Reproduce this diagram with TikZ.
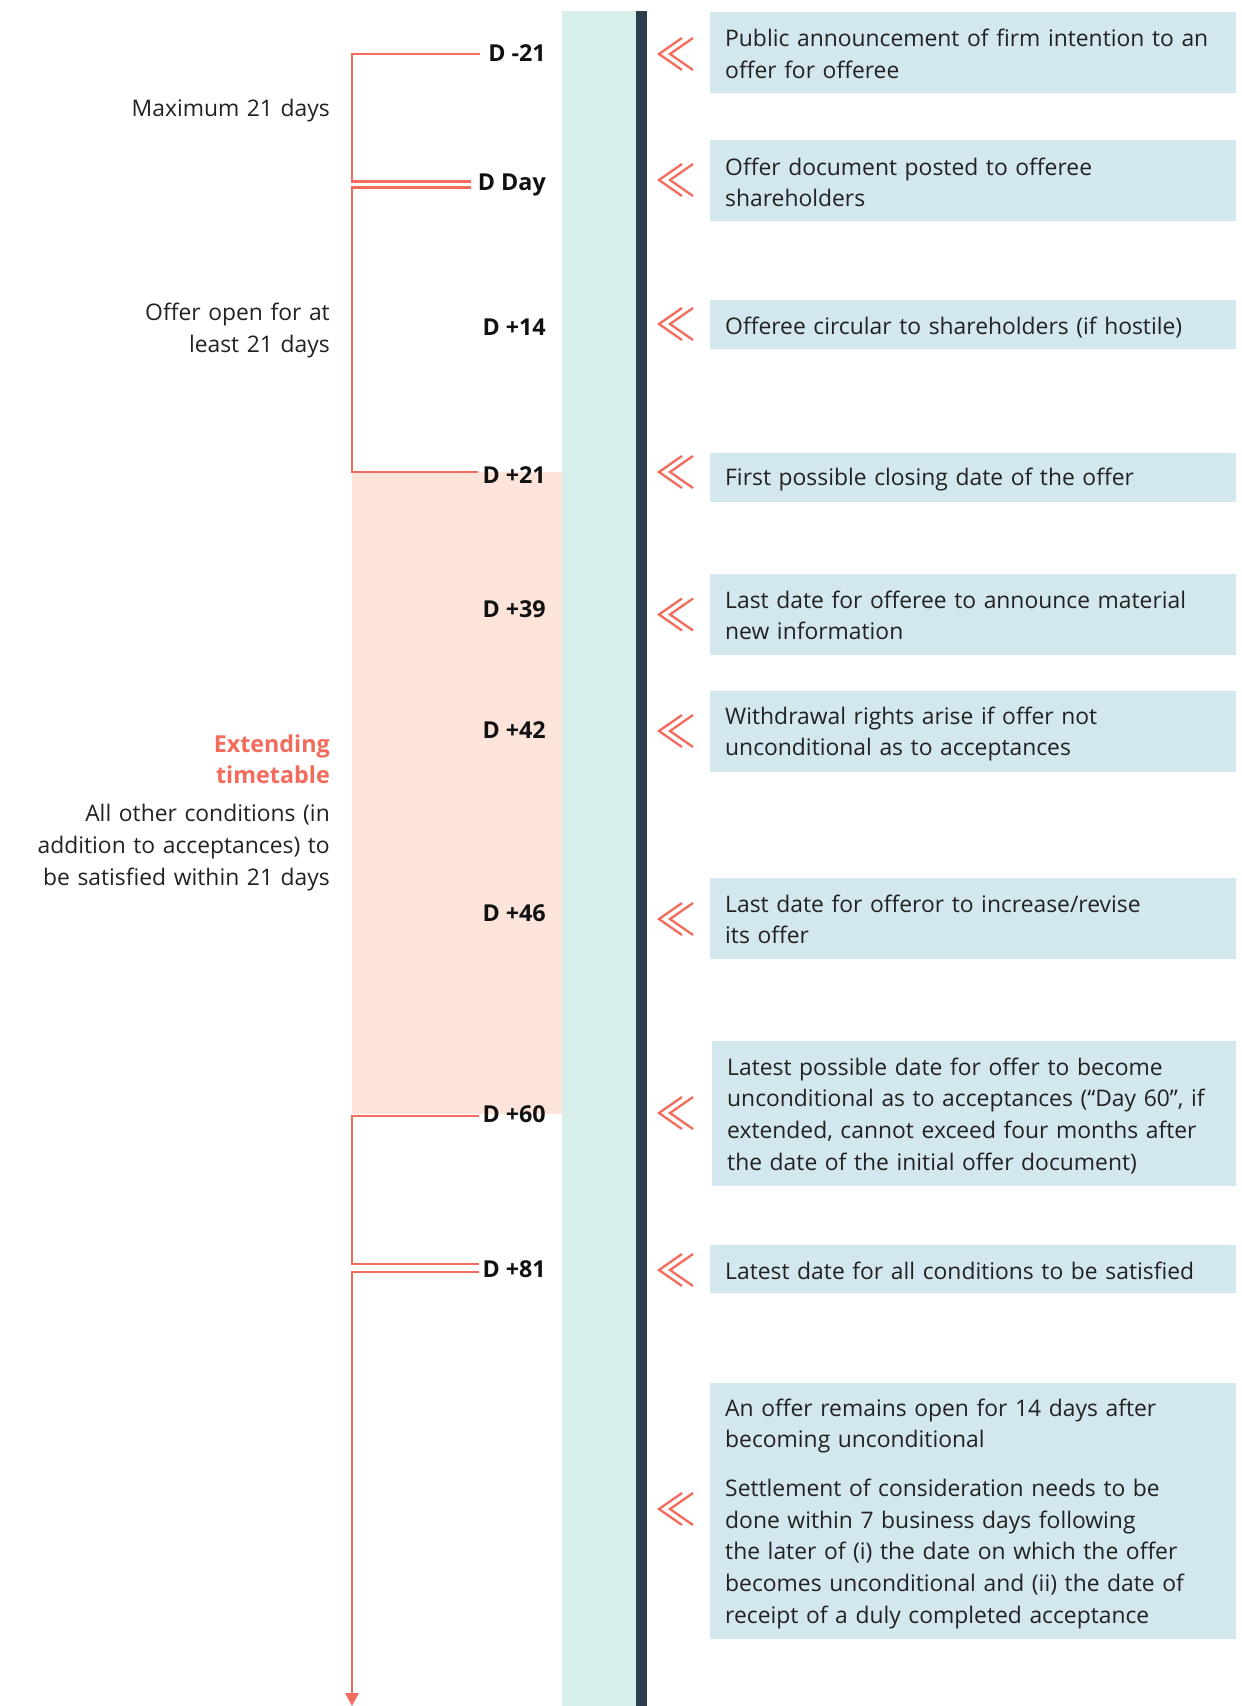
\documentclass[tikz,border=0pt]{standalone}
\usepackage{fontspec}
\setmainfont{Open Sans}
\usetikzlibrary{arrows.meta}

\definecolor{coral}{HTML}{F26B5B}
\definecolor{panelblue}{HTML}{D3E7EE}
\definecolor{railteal}{HTML}{D7EEEA}
\definecolor{raildark}{HTML}{2C3E4C}
\definecolor{peach}{HTML}{FDE4DB}
\definecolor{ink}{HTML}{222222}
\definecolor{labelink}{HTML}{111111}

\newcommand\txtsize{\fontsize{22.85}{31.7}\selectfont}
\newcommand\lblsize{\fontsize{23.3}{31.7}\selectfont}

\tikzset{
  pics/chevrons/.style={code={
    \draw[coral, line width=2.3pt] (23,-16) -- (0,0) -- (23,16)
                                   (34,-16) -- (11,0) -- (34,16);
  }}
}

\begin{document}
\begin{tikzpicture}[x=1pt,y=-1pt,
  panel/.style={fill=panelblue, draw=none, inner sep=0, outer sep=0,
                anchor=north west, minimum width=526pt},
  desc/.style={anchor=base west, inner sep=0, text width=520pt, align=left,
               font=\txtsize, text=ink},
  side/.style={anchor=base east, inner sep=0, text width=330pt, align=right,
               font=\txtsize, text=ink},
  daylbl/.style={anchor=base east, inner sep=0, font=\bfseries\lblsize, text=labelink},
  bracket/.style={draw=coral, line width=2.9pt}
]
\useasboundingbox (0,0) rectangle (1242,1706);
\fill[white] (0,0) rectangle (1242,1706);

% extension period and the time rail
\fill[peach] (352,472) rectangle (562,1114);
\fill[railteal] (562,11) rectangle (636,1706);
\fill[raildark] (636,11) rectangle (647,1706);

% day labels
\node[daylbl] (lm21) at (546,61.7)   {D -21};
\node[daylbl] (lday) at (546,190)    {D Day};
\node[daylbl] (lp14) at (546,335)    {D +14};
\node[daylbl] (lp21) at (546,483.3)  {D +21};
\node[daylbl] (lp39) at (546,617.3)  {D +39};
\node[daylbl] (lp42) at (546,738.3)  {D +42};
\node[daylbl] (lp46) at (546,921.7)  {D +46};
\node[daylbl] (lp60) at (546,1122.3) {D +60};
\node[daylbl] (lp81) at (546,1277.3) {D +81};

% bracket end points
\coordinate (a1) at (480,54);    \coordinate (a2) at (471,181.5);
\coordinate (c1) at (471,187.5); \coordinate (c2) at (478,472);
\coordinate (e1) at (479,1116);  \coordinate (e2) at (479,1264);
\coordinate (g1) at (479,1272);  \coordinate (g2) at (352,1706);

\draw[bracket] (a1) -- (352,54) -- (352,181.5) -- (a2);
\draw[bracket] (c1) -- (352,187.5) -- (352,472) -- (c2);
\draw[bracket] (e1) -- (352,1116) -- (352,1264) -- (e2);
\draw[bracket, -{Triangle[width=13pt,length=13pt]}] (g1) -- (352,1272) -- (g2);

% period descriptions
\node[side] (smax) at (330,116.7) {Maximum 21 days};
\node[side] (sopen) at (330,320.7) {Offer open for at\\least 21 days};
\node[side, font=\bfseries\fontsize{23.3}{30.6}\selectfont, text=coral] (sext)
  at (330,752.7) {Extending\\timetable};
\node[side] (sall) at (330,821.7)
  {All other conditions (in\\addition to acceptances) to\\be satisfied within 21 days};

% event panels
\node[panel, minimum height=81pt]  (p1)  at (710,12)   {};
\node[panel, minimum height=81pt]  (p2)  at (710,140)  {};
\node[panel, minimum height=49pt]  (p3)  at (710,300)  {};
\node[panel, minimum height=49pt]  (p4)  at (710,453)  {};
\node[panel, minimum height=81pt]  (p5)  at (710,574)  {};
\node[panel, minimum height=81pt]  (p6)  at (710,691)  {};
\node[panel, minimum height=81pt]  (p7)  at (710,878)  {};
\node[panel, minimum height=145pt, minimum width=524pt] (p8) at (712,1041) {};
\node[panel, minimum height=48pt]  (p9)  at (710,1245) {};
\node[panel, minimum height=256pt] (p10) at (710,1383) {};

\node[desc] (t1) at (725,46.7) {Public announcement of firm intention to an\\offer for offeree};
\node[desc] (t2) at (725,175) {Offer document posted to offeree\\shareholders};
\node[desc] (t3) at (725,334) {Offeree circular to shareholders (if hostile)};
\node[desc] (t4) at (725,485.5) {First possible closing date of the offer};
\node[desc] (t5) at (725,608) {Last date for offeree to announce material\\new information};
\node[desc] (t6) at (725,724) {Withdrawal rights arise if offer not\\unconditional as to acceptances};
\node[desc] (t7) at (725,912) {Last date for offeror to increase/revise\\its offer};
\node[desc] (t8) at (727,1075) {Latest possible date for offer to become\\unconditional as to acceptances (“Day 60”, if\\extended, cannot exceed four months after\\the date of the initial offer document)};
\node[desc] (t9) at (725,1279) {Latest date for all conditions to be satisfied};
\node[desc] (t10) at (725,1416) {An offer remains open for 14 days after\\becoming unconditional\\[17pt]Settlement of consideration needs to be\\done within 7 business days following\\the later of (i) the date on which the offer\\becomes unconditional and (ii) the date of\\receipt of a duly completed acceptance};

% markers pointing back to the rail
\pic at (659,54)   {chevrons};
\pic at (659,180)  {chevrons};
\pic at (659,324)  {chevrons};
\pic at (659,472)  {chevrons};
\pic at (659,614.5){chevrons};
\pic at (659,731)  {chevrons};
\pic at (659,919)  {chevrons};
\pic at (659,1113) {chevrons};
\pic at (659,1270) {chevrons};
\pic at (659,1509) {chevrons};
\end{tikzpicture}
\end{document}
